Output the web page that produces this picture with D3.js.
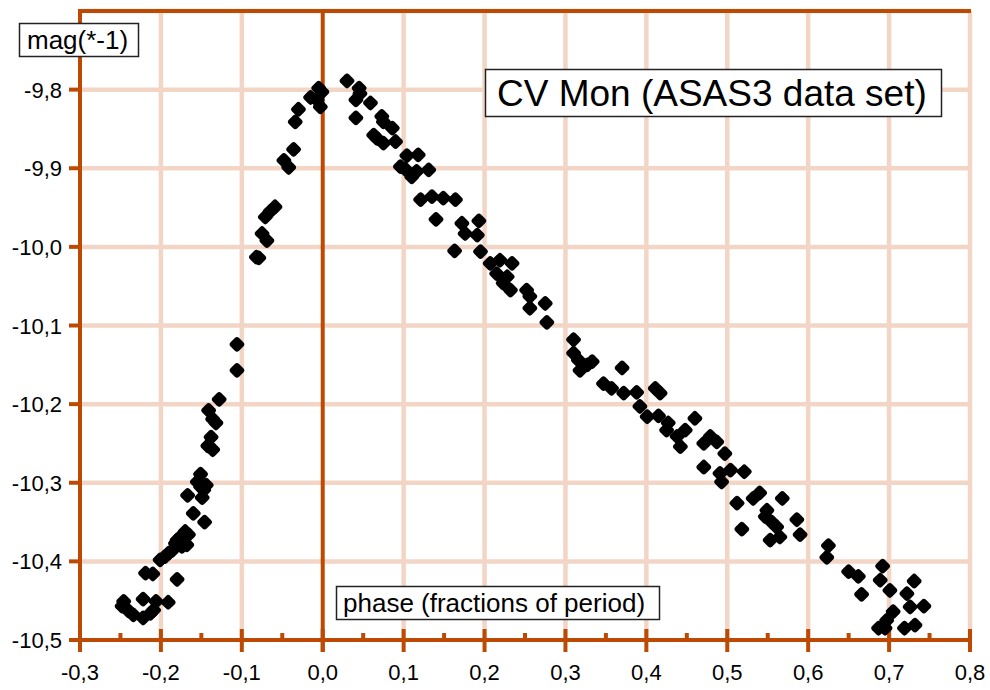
<!DOCTYPE html>
<html lang="en">
<head>
<meta charset="utf-8">
<title>CV Mon (ASAS3 data set)</title>
<script src="https://d3js.org/d3.v7.min.js"></script>
<style>
  body { margin: 0; background: #fff; }
  text { font-family: "Liberation Sans", Arial, sans-serif; fill: #000; }
</style>
</head>
<body>
<script>

// phase folded light curve
var phase = [
  -0.128,-0.141,-0.136,-0.132,-0.138,-0.142,-0.136,-0.151,-0.155,-0.144,
  -0.151,-0.147,-0.149,-0.167,-0.160,-0.146,-0.170,-0.166,-0.176,-0.180,
  -0.168,-0.174,-0.182,-0.186,-0.191,-0.195,-0.201,-0.219,-0.210,-0.180,
  -0.246,-0.248,-0.222,-0.206,-0.191,-0.234,-0.222,-0.213,-0.209,-0.240,
  -0.106,-0.106,-0.079,-0.082,-0.075,-0.069,-0.071,-0.065,-0.059,-0.048,
  -0.042,-0.036,-0.034,-0.030,-0.015,-0.005,-0.001,-0.003,-0.007,
  0.030,0.045,0.046,0.041,0.059,0.041,0.073,0.075,0.086,0.063,
  0.067,0.075,0.090,0.104,0.118,0.096,0.102,0.110,0.116,0.131,
  0.121,0.135,0.149,0.164,0.140,0.172,0.193,0.176,0.191,0.163,
  0.195,0.207,0.219,0.234,0.215,0.228,0.223,0.232,0.252,0.256,
  0.256,0.275,0.277,
  0.310,0.310,0.316,0.318,0.327,0.333,0.370,0.347,0.357,0.372,
  0.388,0.411,0.417,0.392,0.401,0.415,0.427,0.425,0.438,0.448,
  0.442,0.460,0.471,0.479,0.487,0.497,0.471,0.491,0.493,0.504,
  0.512,0.521,
  0.532,0.540,0.568,0.518,0.549,0.547,0.555,0.561,0.553,0.565,
  0.586,0.590,0.625,0.623,0.650,0.662,0.666,0.692,0.689,0.701,
  0.705,0.697,0.687,0.695,0.731,0.722,0.726,0.743,0.719,0.732
];
var mag = [
  -10.194,-10.208,-10.219,-10.224,-10.242,-10.253,-10.258,-10.289,-10.299,-10.303,
  -10.305,-10.309,-10.319,-10.316,-10.339,-10.350,-10.362,-10.366,-10.369,-10.373,
  -10.379,-10.381,-10.377,-10.386,-10.390,-10.394,-10.398,-10.415,-10.416,-10.423,
  -10.451,-10.457,-10.448,-10.451,-10.452,-10.468,-10.472,-10.466,-10.462,-10.463,
  -10.124,-10.157,-10.014,-10.013,-9.983,-9.992,-9.962,-9.955,-9.949,-9.890,
  -9.899,-9.876,-9.841,-9.825,-9.810,-9.798,-9.803,-9.822,-9.813,
  -9.789,-9.798,-9.805,-9.813,-9.817,-9.836,-9.834,-9.841,-9.849,-9.858,
  -9.862,-9.868,-9.866,-9.884,-9.883,-9.898,-9.901,-9.911,-9.904,-9.902,
  -9.940,-9.936,-9.938,-9.940,-9.965,-9.970,-9.967,-9.983,-9.985,-10.005,
  -10.006,-10.021,-10.017,-10.021,-10.034,-10.038,-10.046,-10.055,-10.055,-10.063,
  -10.078,-10.072,-10.096,
  -10.118,-10.135,-10.144,-10.157,-10.150,-10.146,-10.154,-10.174,-10.180,-10.186,
  -10.185,-10.180,-10.186,-10.203,-10.216,-10.215,-10.224,-10.233,-10.241,-10.233,
  -10.254,-10.218,-10.250,-10.241,-10.248,-10.263,-10.280,-10.288,-10.299,-10.284,
  -10.326,-10.286,
  -10.320,-10.313,-10.320,-10.359,-10.335,-10.343,-10.350,-10.356,-10.373,-10.369,
  -10.347,-10.366,-10.380,-10.395,-10.413,-10.419,-10.442,-10.406,-10.424,-10.437,
  -10.464,-10.475,-10.485,-10.485,-10.425,-10.441,-10.458,-10.457,-10.485,-10.481
];

var xTicks = [-0.3,-0.2,-0.1,0.0,0.1,0.2,0.3,0.4,0.5,0.6,0.7,0.8];
var xMinor = [-0.25,-0.15,-0.05,0.05,0.15,0.25,0.35,0.45,0.55,0.65,0.75];
var yTicks = [-10.5,-10.4,-10.3,-10.2,-10.1,-10.0,-9.9,-9.8];
var yGrid = [-10.4,-10.3,-10.2,-10.1,-10.0,-9.9,-9.8,-9.7];

var w = 990;
var h = 690;
var axisColor = "#bc4a02";
var gridColor = "#f3d5c6";
var fmt = function (d) { return d3.format(".1f")(d).replace(".", ",").replace("−", "-"); };

var xScale = d3.scaleLinear().domain([-0.3, 0.8]).range([80, 970]);
var yScale = d3.scaleLinear().domain([-10.5, -9.7]).range([640, 11]);

var svg = d3.select("body").append("svg")
  .attr("width", w)
  .attr("height", h);

svg.append("rect").attr("width", w).attr("height", h).attr("fill", "#fff");

// grid
svg.append("g").selectAll("line")
  .data(xTicks.filter(d => d > -0.3 && d !== 0))
  .join("line")
  .attr("x1", d => xScale(d)).attr("x2", d => xScale(d))
  .attr("y1", yScale(-9.7)).attr("y2", yScale(-10.5))
  .attr("stroke", gridColor).attr("stroke-width", 4.5);

svg.append("g").selectAll("line")
  .data(yGrid)
  .join("line")
  .attr("x1", xScale(-0.3)).attr("x2", xScale(0.8))
  .attr("y1", d => yScale(d)).attr("y2", d => yScale(d))
  .attr("stroke", gridColor).attr("stroke-width", 4.5);

// frame lines
var frame = svg.append("g").attr("stroke", axisColor).attr("stroke-width", 4);
frame.append("line")
  .attr("x1", xScale(-0.3)).attr("x2", xScale(0.8) + 1)
  .attr("y1", yScale(-9.7)).attr("y2", yScale(-9.7));
frame.append("line")
  .attr("x1", xScale(-0.3)).attr("x2", xScale(-0.3))
  .attr("y1", yScale(-9.7) - 2).attr("y2", 652);
frame.append("line")
  .attr("x1", xScale(0)).attr("x2", xScale(0))
  .attr("y1", yScale(-9.7)).attr("y2", 652);
frame.append("line")
  .attr("x1", 69).attr("x2", xScale(0.8) + 2)
  .attr("y1", yScale(-10.5)).attr("y2", yScale(-10.5));

// x axis ticks
frame.append("g").selectAll("line")
  .data(xTicks)
  .join("line")
  .attr("x1", d => xScale(d)).attr("x2", d => xScale(d))
  .attr("y1", 629).attr("y2", 652);
frame.append("g").selectAll("line")
  .data(xMinor)
  .join("line")
  .attr("x1", d => xScale(d)).attr("x2", d => xScale(d))
  .attr("y1", 633).attr("y2", 640);

// y axis ticks
frame.append("g").selectAll("line")
  .data(yTicks)
  .join("line")
  .attr("x1", 69).attr("x2", xScale(-0.3))
  .attr("y1", d => yScale(d)).attr("y2", d => yScale(d));

// tick labels
svg.append("g").selectAll("text")
  .data(xTicks)
  .join("text")
  .attr("x", d => xScale(d))
  .attr("y", 680)
  .attr("text-anchor", "middle")
  .style("font-size", "22px")
  .text(fmt);

svg.append("g").selectAll("text")
  .data(yTicks)
  .join("text")
  .attr("x", 62)
  .attr("y", d => yScale(d) + 8)
  .attr("text-anchor", "end")
  .style("font-size", "22px")
  .text(fmt);

// points
svg.append("g").selectAll("rect")
  .data(d3.range(phase.length))
  .join("rect")
  .attr("x", -6).attr("y", -6)
  .attr("width", 12).attr("height", 12)
  .attr("rx", 3)
  .attr("fill", "#000")
  .attr("transform", i => "translate(" + xScale(phase[i]) + "," + yScale(mag[i]) + ") rotate(45)");

// label boxes
function labelBox(x, y, bw, bh, size, tx, ty, str) {
  var g = svg.append("g");
  g.append("rect")
    .attr("x", x).attr("y", y)
    .attr("width", bw).attr("height", bh)
    .attr("fill", "#fff")
    .attr("stroke", "#222").attr("stroke-width", 1.5);
  g.append("text")
    .attr("x", tx).attr("y", ty)
    .style("font-size", size + "px")
    .text(str);
}

labelBox(19.5, 23.5, 119, 33, 26, 27, 49, "mag(*-1)");
labelBox(336.5, 586.5, 323, 33, 26, 343, 612, "phase (fractions of period)");
labelBox(485.5, 69.5, 456, 47, 37, 497, 106, "CV Mon (ASAS3 data set)");

</script>
</body>
</html>
